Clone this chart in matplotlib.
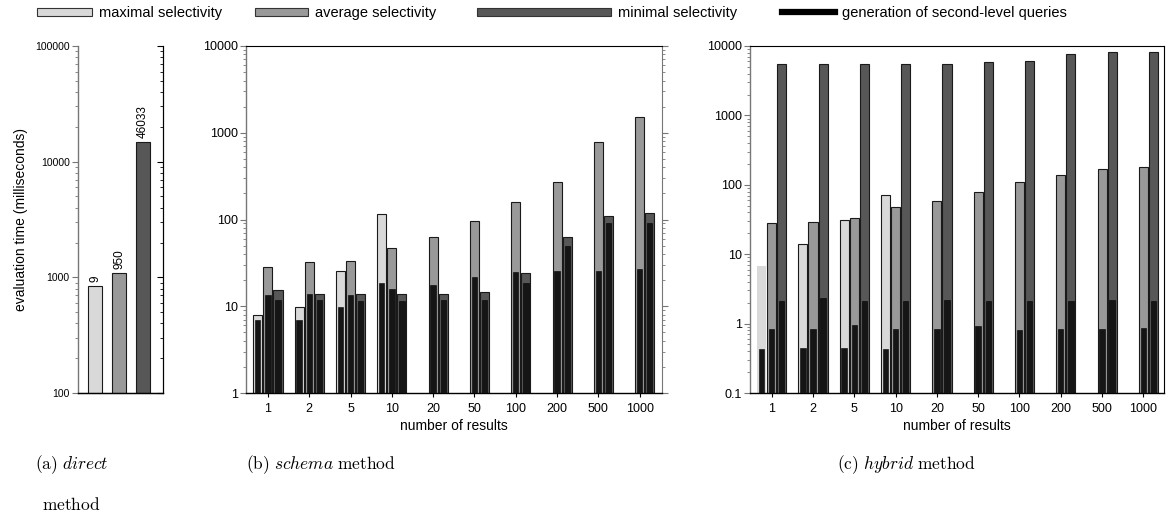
import numpy as np
import matplotlib
matplotlib.use("Agg")
import matplotlib.pyplot as plt
from matplotlib.patches import Patch
from matplotlib.lines import Line2D
from matplotlib.ticker import LogLocator, FuncFormatter, NullFormatter

plt.rcParams['font.family'] = ['Liberation Sans', 'DejaVu Sans']
plt.rcParams['mathtext.fontset'] = 'cm'

# ---- data ----
groups = ["1", "2", "5", "10", "20", "50", "100", "200", "500", "1000"]

# (a) direct method
direct_vals = [841, 1090, 14760]
direct_labels = ["9", "950", "46033"]

# (b) schema method
schema_max = [7.9, 9.7, 25.3, 115, np.nan, np.nan, np.nan, np.nan, np.nan, np.nan]
schema_max_gen = [6.9, 6.9, 9.8, 18.5, np.nan, np.nan, np.nan, np.nan, np.nan, np.nan]
schema_avg = [28.6, 32, 33.5, 46.6, 62.3, 96.8, 158, 268, 776, 1507]
schema_avg_gen = [13.5, 13.8, 13.5, 15.9, 17.6, 21.9, 24.8, 25.3, 25.7, 26.9]
schema_min = [15.3, 13.7, 13.7, 13.7, 13.7, 14.7, 24, 62.3, 110.6, 119.8]
schema_min_gen = [11.7, 11.7, 11.6, 11.6, 11.7, 11.9, 18.5, 49.5, 90.4, 90]

# (c) hybrid method
hybrid_max = [6.76, 14.0, 30.8, 70.5, np.nan, np.nan, np.nan, np.nan, np.nan, np.nan]
hybrid_max_gen = [0.43, 0.44, 0.44, 0.43, np.nan, np.nan, np.nan, np.nan, np.nan, np.nan]
hybrid_avg = [27.9, 29.4, 33.6, 47.9, 57.8, 79.5, 108.6, 137, 170.6, 178.6]
hybrid_avg_gen = [0.84, 0.84, 0.96, 0.84, 0.84, 0.92, 0.81, 0.84, 0.84, 0.86]
hybrid_min = [5450, 5450, 5450, 5450, 5500, 5940, 6140, 7590, 8130, 8130]
hybrid_min_gen = [2.12, 2.34, 2.1, 2.1, 2.21, 2.09, 2.09, 2.12, 2.2, 2.09]

legend_labels = ["maximal selectivity", "average selectivity", "minimal selectivity",
                 "generation of second-level queries"]

C_MAX = "#d9d9d9"
C_AVG = "#999999"
C_MIN = "#575757"
C_GEN = "#151515"
GRAY = "#777777"
TICK_FS = 9

fig = plt.figure(figsize=(11.66, 5.24), dpi=100)

def fmt(v, pos):
    return "%g" % v

def log_axis(ax, lo, hi):
    ax.set_yscale("log")
    ax.set_ylim(lo, hi)
    ax.yaxis.set_major_locator(LogLocator(base=10))
    ax.yaxis.set_minor_locator(LogLocator(base=10, subs=np.arange(2, 10)))
    ax.yaxis.set_major_formatter(FuncFormatter(fmt))
    ax.yaxis.set_minor_formatter(NullFormatter())


def style_log(ax, lo, hi, fs=TICK_FS):
    log_axis(ax, lo, hi)
    ax.tick_params(axis="y", which="major", length=4, width=0.8, color=GRAY, labelsize=fs, pad=2)
    ax.tick_params(axis="y", which="minor", length=2.5, width=0.6, color=GRAY)
    ax.spines["left"].set_color(GRAY)
    ax.spines["left"].set_linewidth(1.0)
    ax.spines["bottom"].set_linewidth(1.0)


def grouped(ax, maxv, maxg, avgv, avgg, minv, ming, no_edge_first=False):
    x = np.arange(len(groups))
    w, wg, off = 0.22, 0.13, 0.245
    for i in range(len(groups)):
        for dx, v, g, c in [(-off, maxv[i], maxg[i], C_MAX),
                            (0, avgv[i], avgg[i], C_AVG),
                            (off, minv[i], ming[i], C_MIN)]:
            if np.isnan(v):
                continue
            ec = "none" if (no_edge_first and i == 0 and c == C_MAX) else "#1a1a1a"
            ax.bar(x[i] + dx, v, width=w, bottom=1e-3, color=c, edgecolor=ec, linewidth=0.8, zorder=2)
            ax.bar(x[i] + dx, g, width=wg, bottom=1e-3, color=C_GEN, edgecolor="#000000", linewidth=0.4, zorder=3)
    ax.set_xticks(x)
    ax.set_xticklabels(groups)
    ax.tick_params(axis="x", length=3, width=0.8, labelsize=TICK_FS, pad=4)
    ax.set_xlabel("number of results", fontsize=10, labelpad=3)


# ---- (a) ----
ax1 = fig.add_axes([78 / 1166, 0.25, 85 / 1166, 347 / 524])
xa = np.arange(3)
ax1.bar(xa, direct_vals, width=0.58, bottom=1e-3, color=[C_MAX, C_AVG, C_MIN],
        edgecolor="#1a1a1a", linewidth=0.8, zorder=2)
for xi, v, lab in zip(xa, direct_vals, direct_labels):
    ax1.text(xi, v * 1.08, lab, rotation=90, ha="center", va="bottom", fontsize=8.5)
style_log(ax1, 100, 100000, fs=7.5)
ax1.set_xlim(-0.71, 2.83)
ax1.set_xticks([])
ax1.spines["top"].set_visible(False)
ax1.set_ylabel("evaluation time (milliseconds)", fontsize=10, labelpad=5)
ax1r = ax1.twinx()
log_axis(ax1r, 100, 100000)
ax1r.tick_params(axis="y", which="major", direction="in", length=4, width=0.8, labelright=False)
ax1r.tick_params(axis="y", which="minor", direction="in", length=2.5, width=0.6)
ax1r.spines["top"].set_visible(False)
ax1r.spines["left"].set_visible(False)

# ---- (b) ----
ax2 = fig.add_axes([246 / 1166, 0.25, 416 / 1166, 347 / 524])
grouped(ax2, schema_max, schema_max_gen, schema_avg, schema_avg_gen, schema_min, schema_min_gen)
style_log(ax2, 1, 10000)
ax2.set_xlim(-0.53, 9.54)
ax2.yaxis.set_ticks_position("both")
ax2.tick_params(axis="y", which="both", right=True, labelright=False)
ax2.spines["right"].set_color(GRAY)

# ---- (c) ----
ax3 = fig.add_axes([750 / 1166, 0.25, 414 / 1166, 347 / 524])
grouped(ax3, hybrid_max, hybrid_max_gen, hybrid_avg, hybrid_avg_gen, hybrid_min, hybrid_min_gen,
        no_edge_first=True)
style_log(ax3, 0.1, 10000)
ax3.set_xlim(-0.525, 9.5)

# ---- legend (one entry per legend so each can sit where it does in the figure) ----
LEG_FS = 10.5
handles = [Patch(facecolor=C_MAX, edgecolor="#333333", linewidth=0.8),
           Patch(facecolor=C_AVG, edgecolor="#333333", linewidth=0.8),
           Patch(facecolor=C_MIN, edgecolor="#333333", linewidth=0.8),
           Line2D([], [], color="black", linewidth=4.5)]
starts = [37, 255, 477, 782]
lengths = [3.75, 3.6, 9.2, 3.6]
for h, lab, x0, hl in zip(handles, legend_labels, starts, lengths):
    fig.legend([h], [lab], loc="upper left", bbox_to_anchor=(x0 / 1166, 1 - 6 / 524),
               frameon=False, fontsize=LEG_FS, handlelength=hl, handleheight=0.5,
               handletextpad=0.5, borderaxespad=0, borderpad=0)

# ---- captions ----
fig.text(35 / 1166, 1 - 465 / 524, r"$\mathrm{(a)}\ \mathit{direct}$", fontsize=12.5, va="center")
fig.text(42 / 1166, 1 - 505 / 524, r"$\mathrm{method}$", fontsize=12.5, va="center")
fig.text(246 / 1166, 1 - 465 / 524, r"$\mathrm{(b)}\ \mathit{schema}\ \mathrm{method}$", fontsize=12.5, va="center")
fig.text(837 / 1166, 1 - 465 / 524, r"$\mathrm{(c)}\ \mathit{hybrid}\ \mathrm{method}$", fontsize=12.5, va="center")

fig.savefig("out.png", dpi=100)
